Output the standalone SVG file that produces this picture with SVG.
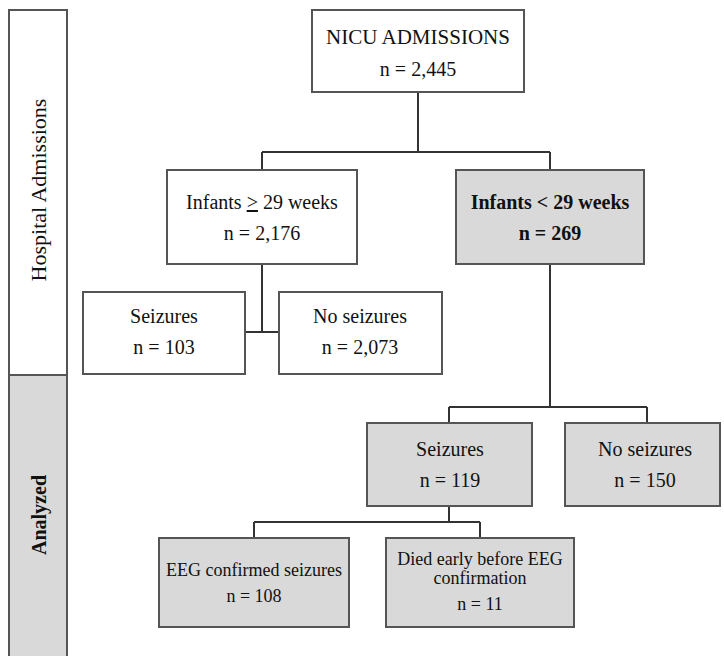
<svg xmlns="http://www.w3.org/2000/svg" width="724" height="656" viewBox="0 0 724 656">
<style>
.box{stroke:#555;stroke-width:2;}
.w{fill:#fff;}
.g{fill:#d9d9d9;}
.t{font-family:"Liberation Serif","Times New Roman",serif;font-size:20px;fill:#111;text-anchor:middle;}
.s{font-size:18px;}
.b{font-weight:bold;}
.conn{stroke:#333;stroke-width:2;fill:none;}
</style>
<rect width="724" height="656" fill="#fff"/>
<g id="phase-hospital">
<rect class="box w" x="9" y="10" width="58" height="365"/>
<text class="t" transform="translate(46,190) rotate(-90)" style="font-size:22px">Hospital Admissions</text>
</g>
<g id="phase-analyzed">
<rect class="box g" x="9" y="375" width="58" height="300"/>
<text class="t b" transform="translate(46,515) rotate(-90)">Analyzed</text>
</g>
<g id="connectors">
<path class="conn" d="M418,92 V152 M262,152 H550 M262,152 V170 M550,152 V170"/>
<path class="conn" d="M262,264 V332 M245,332 H279"/>
<path class="conn" d="M550,264 V407 M449,407 H647 M449,407 V423 M647,407 V423"/>
<path class="conn" d="M449,506 V522 M254,522 H480 M254,522 V538 M480,522 V538"/>
</g>
<g id="nicu">
<rect class="box w" x="312" y="10" width="212" height="82"/>
<text class="t" x="418" y="44" style="font-size:21px">NICU ADMISSIONS</text>
<text class="t" x="418" y="76">n = 2,445</text>
</g>
<g id="infants-ge29">
<rect class="box w" x="167" y="170" width="190" height="94"/>
<text class="t" x="262" y="209">Infants <tspan text-decoration="underline">&gt;</tspan> 29 weeks</text>
<text class="t" x="262" y="240">n = 2,176</text>
</g>
<g id="infants-lt29">
<rect class="box g" x="456" y="170" width="188" height="94"/>
<text class="t b" x="550" y="209">Infants &lt; 29 weeks</text>
<text class="t b" x="550" y="240">n = 269</text>
</g>
<g id="seizures-103">
<rect class="box w" x="83" y="292" width="162" height="82"/>
<text class="t" x="164" y="323">Seizures</text>
<text class="t" x="164" y="354">n = 103</text>
</g>
<g id="noseizures-2073">
<rect class="box w" x="279" y="292" width="163" height="82"/>
<text class="t" x="360" y="323">No seizures</text>
<text class="t" x="360" y="354">n = 2,073</text>
</g>
<g id="seizures-119">
<rect class="box g" x="367" y="423" width="165" height="83"/>
<text class="t" x="450" y="456">Seizures</text>
<text class="t" x="450" y="487">n = 119</text>
</g>
<g id="noseizures-150">
<rect class="box g" x="565" y="423" width="155" height="83"/>
<text class="t" x="645" y="456">No seizures</text>
<text class="t" x="645" y="487">n = 150</text>
</g>
<g id="eeg-confirmed">
<rect class="box g" x="159" y="538" width="190" height="89"/>
<text class="t s" x="254" y="576">EEG confirmed seizures</text>
<text class="t s" x="254" y="602">n = 108</text>
</g>
<g id="died-early">
<rect class="box g" x="386" y="538" width="188" height="89"/>
<text class="t s" x="480" y="565">Died early before EEG</text>
<text class="t s" x="480" y="584">confirmation</text>
<text class="t s" x="480" y="610">n = 11</text>
</g>
</svg>
